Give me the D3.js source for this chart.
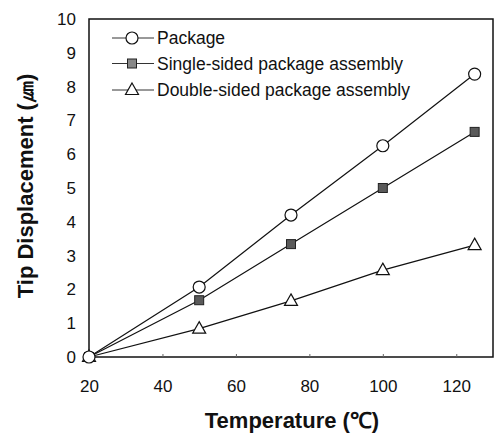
<!DOCTYPE html>
<html lang="en">
  <head>
    <meta charset="utf-8" />
    <title>Tip displacement vs temperature</title>
    <script src="https://cdn.jsdelivr.net/npm/d3@7"></script>
    <style>
      body { margin: 0; background: #fff; }
      text { font-family: Arial, "Liberation Sans", sans-serif; fill: #111; }
    </style>
  </head>
  <body>
    <div id="chart"></div>
    <script>
      let w = 497;
      let h = 437;

      // data
      let temps = [20, 50, 75, 100, 125];
      let pkg = [0, 2.07, 4.2, 6.25, 8.37];
      let single = [0, 1.68, 3.34, 5.0, 6.66];
      let double = [0, 0.84, 1.66, 2.57, 3.31];
      let seriesNames = ["Package", "Single-sided package assembly", "Double-sided package assembly"];
      let xTicks = [20, 40, 60, 80, 100, 120];
      let yTicks = [0, 1, 2, 3, 4, 5, 6, 7, 8, 9, 10];

      let margin = { left: 89, right: 4, top: 19, bottom: 80 };

      let svg = d3.select("#chart").append("svg")
        .attr("width", w)
        .attr("height", h);

      let x = d3.scaleLinear().domain([20, 130]).range([margin.left, w - margin.right]);
      let y = d3.scaleLinear().domain([0, 10]).range([h - margin.bottom, margin.top]);

      // frame
      svg.append("rect")
        .attr("x", x(20)).attr("y", y(10))
        .attr("width", x(130) - x(20)).attr("height", y(0) - y(10))
        .attr("fill", "none").attr("stroke", "#111").attr("stroke-width", 1.5);

      // axes (labels only, the frame is drawn above)
      let xAxis = svg.append("g")
        .attr("transform", `translate(0,${y(0)})`)
        .call(d3.axisBottom(x).tickValues(xTicks).tickSize(3).tickPadding(20));
      xAxis.select(".domain").remove();
      xAxis.selectAll("line").attr("y2", -3).attr("stroke", "#666");
      xAxis.selectAll("text").style("font-size", "17px").attr("fill", "#111");

      let yAxis = svg.append("g")
        .attr("transform", `translate(${x(20)},0)`)
        .call(d3.axisLeft(y).tickValues(yTicks).tickSize(0).tickPadding(13));
      yAxis.select(".domain").remove();
      yAxis.selectAll("text").style("font-size", "17px").attr("fill", "#111");

      // axis titles
      svg.append("text")
        .attr("x", 292).attr("y", 428)
        .attr("text-anchor", "middle")
        .style("font-size", "22px").style("font-weight", "bold")
        .text("Temperature (℃)");

      svg.append("text")
        .attr("transform", "translate(33,186) rotate(-90)")
        .attr("text-anchor", "middle")
        .style("font-size", "22px").style("font-weight", "bold")
        .text("Tip Displacement (㎛)");

      let line = d3.line()
        .x(function (d, i) { return x(temps[i]); })
        .y(function (d) { return y(d); });

      let allSeries = [pkg, single, double];
      svg.selectAll(".series")
        .data(allSeries)
        .join("path")
        .attr("class", "series")
        .attr("d", line)
        .attr("fill", "none")
        .attr("stroke", "#111")
        .attr("stroke-width", 1.2);

      // marker drawers
      function circleMark(g, cx, cy) {
        g.append("circle").attr("cx", cx).attr("cy", cy).attr("r", 6)
          .attr("fill", "#fff").attr("stroke", "#111").attr("stroke-width", 1.2);
      }
      function squareMark(g, cx, cy, fill) {
        g.append("rect").attr("x", cx - 4.5).attr("y", cy - 4.5)
          .attr("width", 9).attr("height", 9)
          .attr("fill", fill).attr("stroke", "#222").attr("stroke-width", 1);
      }
      function triMark(g, cx, cy) {
        g.append("path")
          .attr("d", `M${cx},${cy - 7}L${cx + 6.5},${cy + 4.5}L${cx - 6.5},${cy + 4.5}Z`)
          .attr("fill", "#fff").attr("stroke", "#111").attr("stroke-width", 1.2);
      }

      let marks = svg.append("g");
      double.forEach(function (d, i) { triMark(marks, x(temps[i]), y(d)); });
      single.forEach(function (d, i) { squareMark(marks, x(temps[i]), y(d), "#5a5a5a"); });
      pkg.forEach(function (d, i) { circleMark(marks, x(temps[i]), y(d)); });

      // legend
      let legend = svg.append("g");
      let rowY = [38, 63.5, 90];
      seriesNames.forEach(function (name, i) {
        legend.append("line")
          .attr("x1", 112).attr("x2", 154)
          .attr("y1", rowY[i]).attr("y2", rowY[i])
          .attr("stroke", "#333").attr("stroke-width", 1);
        if (i === 0) circleMark(legend, 132, rowY[i]);
        if (i === 1) squareMark(legend, 132, rowY[i], "#888");
        if (i === 2) triMark(legend, 132, rowY[i]);
        legend.append("text")
          .attr("x", 157).attr("y", rowY[i])
          .attr("dy", "0.35em")
          .style("font-size", "17.5px")
          .text(name);
      });
    </script>
  </body>
</html>
